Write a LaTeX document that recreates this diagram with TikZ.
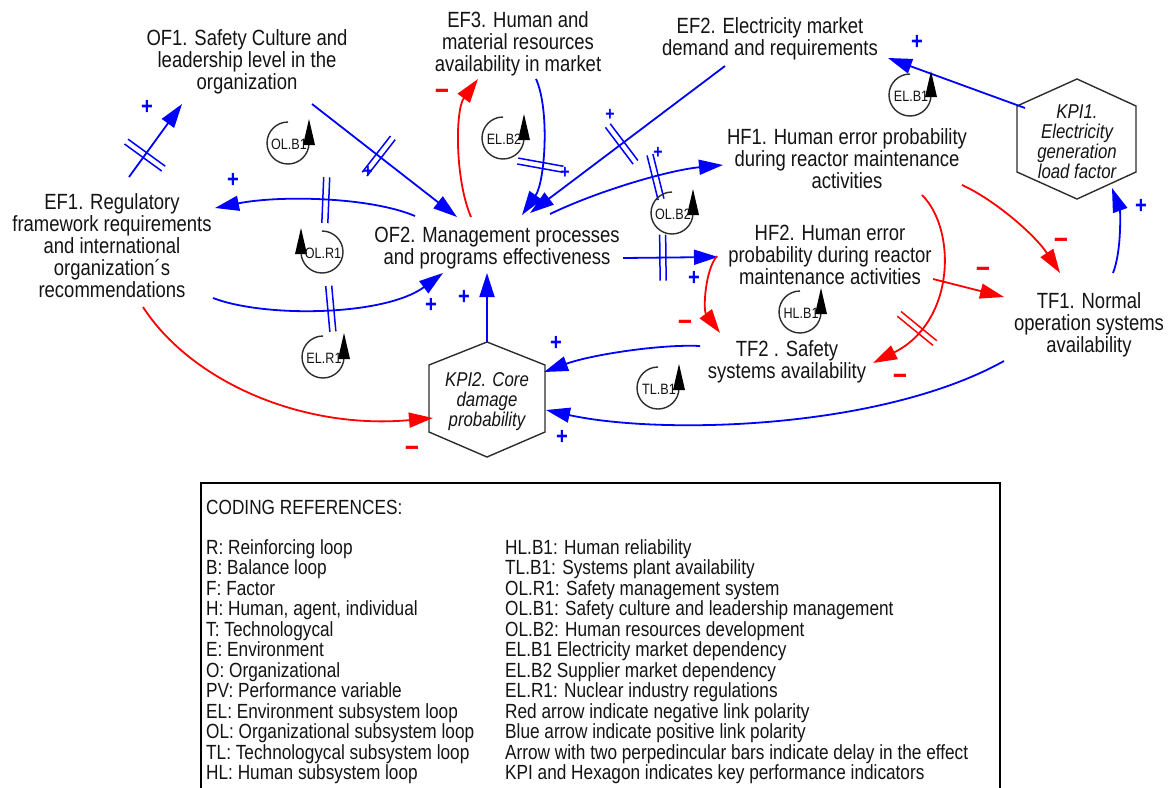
\documentclass[tikz,border=0pt]{standalone}
\usepackage{fontspec}
\setmainfont{Liberation Sans}[FakeStretch=0.84]
\usetikzlibrary{arrows.meta,calc,decorations.markings}
\definecolor{cblue}{RGB}{0,0,255}
\definecolor{cred}{RGB}{255,0,0}
\definecolor{cgray}{RGB}{45,45,45}
\definecolor{ctext}{RGB}{20,20,20}
\newcommand\loopmarker[5]{%
  \draw[loopline] ($(#2,#3)+(0,-21)$) arc[start angle=-90, end angle={-90-270*#5}, radius=21];
  \fill[black] ({#2+#5*21-6},{#3+2}) -- ({#2+#5*21+6},{#3+2}) -- ({#2+#5*21},{#3-24}) -- cycle;
  \node[looplabel] (#1) at ({#2+1},{#3+1}) {#4};}
\begin{document}
\begin{tikzpicture}[x=1pt,y=-1pt,
  var/.style={align=center, font=\fontsize{22}{22}\selectfont, inner sep=0pt, text=ctext},
  kpitext/.style={align=center, font=\fontsize{20}{20}\selectfont\itshape, inner sep=0pt, text=ctext},
  hexa/.style={draw=cgray, line width=1.4pt, line join=miter},
  pos link/.style={draw=cblue, line width=1.8pt, -{Triangle[length=24pt,width=15pt]}},
  neg link/.style={draw=cred, line width=1.8pt, -{Triangle[length=24pt,width=15pt]}},
  delayB/.style={postaction={decorate, decoration={markings, mark=at position #1 with {\draw[-, draw=cblue, line width=1.5pt] (-3,-23) -- (-3,23) (3,-23) -- (3,23);}}}},
  delayR/.style={postaction={decorate, decoration={markings, mark=at position #1 with {\draw[-, draw=cred, line width=1.5pt] (-3,-23) -- (-3,23) (3,-23) -- (3,23);}}}},
  plus/.style={text=cblue, font=\fontsize{24}{24}\selectfont\bfseries, inner sep=0pt},
  smallplus/.style={text=cblue, font=\fontsize{19}{19}\selectfont\bfseries, inner sep=0pt},
  minus/.style={text=cred, font=\fontsize{29}{29}\selectfont\bfseries, inner sep=0pt},
  loopline/.style={draw=cgray, line width=1.4pt},
  looplabel/.style={font=\fontsize{15}{15}\selectfont, inner sep=0pt, text=ctext},
  legendtext/.style={font=\fontsize{20.5}{20.5}\selectfont, inner sep=0pt, anchor=base west, text=ctext},
  legendbox/.style={draw=black, line width=1.3pt}
]
\useasboundingbox (0,0) rectangle (1172,787);
\fill[white] (0,0) rectangle (1172,787);

% variables
\node[var] (of1) at (247,62) {OF1. Safety Culture and\\leadership level in the\\organization};
\node[var] (ef3) at (518,44) {EF3. Human and\\material resources\\availability in market};
\node[var] (ef2) at (770,39) {EF2. Electricity market\\demand and requirements};
\node[var] (ef1) at (112,246) {EF1. Regulatory\\framework requirements\\and international\\organization´s\\recommendations};
\node[var] (of2) at (497,248) {OF2. Management processes\\and programs effectiveness};
\node[var] (hf1) at (847,159) {HF1. Human error probability\\during reactor maintenance\\activities};
\node[var] (hf2) at (830,255) {HF2. Human error\\probability during reactor\\maintenance activities};
\node[var] (tf1) at (1089,325) {TF1. Normal\\operation systems\\availability};
\node[var] (tf2) at (787,362) {TF2 . Safety\\systems availability};
\node[kpitext] (kpi1) at (1077,142) {KPI1.\\Electricity\\generation\\load factor};
\node[kpitext] (kpi2) at (487,402) {KPI2. Core\\damage\\probability};

% hexagons
\draw[hexa] ($(kpi1)+(0,-63)$) -- ($(kpi1)+(59,-36)$) -- ($(kpi1)+(59,30)$) -- ($(kpi1)+(0,57)$) -- ($(kpi1)+(-60,30)$) -- ($(kpi1)+(-60,-36)$) -- cycle;
\draw[hexa] ($(kpi2)+(0,-60)$) -- ($(kpi2)+(58,-37)$) -- ($(kpi2)+(58,30)$) -- ($(kpi2)+(0,55)$) -- ($(kpi2)+(-58,30)$) -- ($(kpi2)+(-58,-37)$) -- cycle;

% connectors
\draw[pos link, delayB=0.3] ($(ef1)+(17,-69)$) -- ($(of1)+(-65,42)$);
\draw[pos link, delayB=0.46] ($(of1)+(65,42)$) -- ($(of2)+(-40,-31)$);
\draw[pos link, delayB=0.45] ($(of2)+(-82,-32)$) .. controls +(-45,-19) and +(65,-13) .. ($(ef1)+(103,-38)$);
\draw[pos link, delayB=0.5] ($(ef1)+(101,52)$) .. controls +(52,20) and +(-58,43) .. ($(of2)+(-54,25)$);
\draw[pos link] ($(kpi2)+(0,-60)$) -- ($(of2)+(-10,25)$);
\draw[neg link] ($(of2)+(-26,-31)$) .. controls +(-16,-37) and +(-23,31) .. ($(ef3)+(-40,35)$);
\draw[pos link, delayB=0.62] ($(ef3)+(18,35)$) .. controls +(14,31) and +(23,-33) .. ($(of2)+(25,-33)$);
\draw[pos link, delayB=0.53] ($(ef2)+(-45,27)$) -- ($(of2)+(33,-35)$);
\draw[pos link, delayB=0.62] ($(of2)+(53,-34)$) .. controls +(50,-24) and +(-53,5) .. ($(hf1)+(-124,6)$);
\draw[pos link, delayB=0.42] ($(of2)+(126,10)$) -- ($(hf2)+(-112,2)$);
\draw[neg link] ($(hf2)+(-113,1)$) .. controls +(-12,14) and +(-17,-23) .. ($(tf2)+(-67,-29)$);
\draw[neg link] ($(hf1)+(115,26)$) .. controls +(33,15) and +(-25,-38) .. ($(tf1)+(-29,-52)$);
\draw[neg link] ($(hf2)+(103,24)$) -- ($(tf1)+(-85,-28)$);
\draw[neg link, delayR=0.72] ($(hf1)+(75,36)$) .. controls +(35,35) and +(82,-41) .. ($(tf2)+(86,1)$);
\draw[pos link] ($(tf1)+(24,-52)$) .. controls +(9,-23) and +(8,22) .. ($(kpi1)+(35,46)$);
\draw[pos link] ($(kpi1)+(-52,-34)$) -- ($(ef2)+(118,19)$);
\draw[pos link] ($(tf2)+(-87,-16)$) .. controls +(-40,-2) and +(46,-17) .. ($(kpi2)+(57,-30)$);
\draw[pos link] ($(tf1)+(-85,36)$) .. controls +(-124,69) and +(114,25) .. ($(kpi2)+(59,8)$);
\draw[neg link] ($(ef1)+(31,61)$) .. controls +(47,73) and +(-133,12) .. ($(kpi2)+(-54,16)$);

% polarity signs
\node[plus] (s1) at (147,107) {+};
\node[smallplus] (s2) at (368,172) {+};
\node[plus] (s3) at (233,180) {+};
\node[plus] (s4) at (431,305) {+};
\node[plus] (s5) at (464,297) {+};
\node[smallplus] (s7) at (565,173) {+};
\node[smallplus] (s8) at (610,115) {+};
\node[smallplus] (s9) at (658,153) {+};
\node[plus] (s10) at (694,278) {+};
\node[plus] (s15) at (1141,206) {+};
\node[plus] (s16) at (917,42) {+};
\node[plus] (s17) at (556,343) {+};
\node[plus] (s18) at (562,437) {+};
\node[minus] (m6) at (442,95) {−};
\node[minus] (m11) at (685,326) {−};
\node[minus] (m12) at (1061,244) {−};
\node[minus] (m13) at (983,273) {−};
\node[minus] (m14) at (900,380) {−};
\node[minus] (m19) at (412,452) {−};

% loop markers
\loopmarker{lob1}{288}{143}{OL.B1}{1}
\loopmarker{leb2}{503}{138}{EL.B2}{1}
\loopmarker{lob2}{672}{213}{OL.B2}{1}
\loopmarker{lor1}{322}{252}{OL.R1}{-1}
\loopmarker{ler1}{323}{357}{EL.R1}{1}
\loopmarker{lhb1}{800}{312}{HL.B1}{1}
\loopmarker{ltb1}{658}{388}{TL.B1}{1}
\loopmarker{leb1}{910}{95}{EL.B1}{1}

% legend
\draw[legendbox] (201,790) -- (201,483) -- (1000,483) -- (1000,790);
\node[legendtext] (lgtitle) at (206,514) {CODING REFERENCES:};
\foreach \t [count=\i] in {{R: Reinforcing loop},{B: Balance loop},{F: Factor},{H: Human, agent, individual},{T: Technologycal},{E: Environment},{O: Organizational},{PV: Performance variable},{EL: Environment subsystem loop},{OL: Organizational subsystem loop},{TL: Technologycal subsystem loop},{HL: Human subsystem loop}}
  \node[legendtext] (lgl\i) at (206,{554.5+20.45*(\i-1)}) {\t};
\foreach \t [count=\i] in {{HL.B1: Human reliability},{TL.B1: Systems plant availability},{OL.R1: Safety management system},{OL.B1: Safety culture and leadership management},{OL.B2: Human resources development},{EL.B1 Electricity market dependency},{EL.B2 Supplier market dependency},{EL.R1: Nuclear industry regulations},{Red arrow indicate negative link polarity},{Blue arrow indicate positive link polarity},{Arrow with two perpedincular bars indicate delay in the effect},{KPI and Hexagon indicates key performance indicators}}
  \node[legendtext] (lgr\i) at (505,{554.5+20.45*(\i-1)}) {\t};
\end{tikzpicture}
\end{document}
